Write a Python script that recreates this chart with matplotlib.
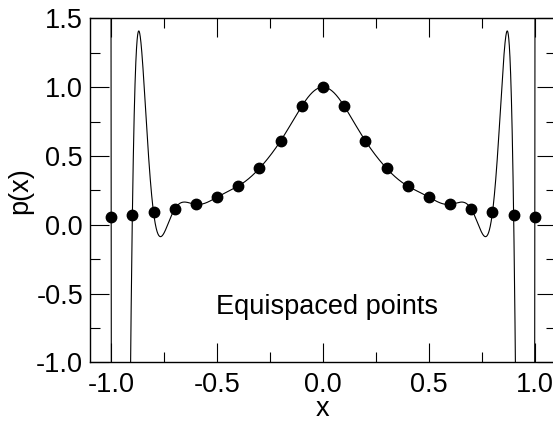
import numpy as np
import matplotlib
matplotlib.use("Agg")
import matplotlib.pyplot as plt
from matplotlib.ticker import MultipleLocator, FormatStrFormatter

# ==========================================================
# DATOS
# ==========================================================

x_nodos = [-1.0, -0.9, -0.8, -0.7, -0.6, -0.5, -0.4, -0.3, -0.2, -0.1, 0.0,
           0.1, 0.2, 0.3, 0.4, 0.5, 0.6, 0.7, 0.8, 0.9, 1.0]

y_nodos = [0.058824, 0.071633, 0.088968, 0.113122, 0.147929, 0.200000,
           0.280899, 0.409836, 0.609756, 0.862069, 1.000000,
           0.862069, 0.609756, 0.409836, 0.280899, 0.200000, 0.147929,
           0.113122, 0.088968, 0.071633, 0.058824]

etiqueta = "Equispaced points"

# ==========================================================
# ESTILO
# ==========================================================

plt.rcParams["font.family"] = ["Liberation Sans", "DejaVu Sans"]
plt.rcParams["font.size"] = 19.5

# polinomio interpolante por los nodos
poly = np.polynomial.Chebyshev.fit(x_nodos, y_nodos, len(x_nodos) - 1)
xs = np.linspace(-1.1, 1.1, 6001)
ys = poly(xs)

fig = plt.figure(figsize=(5.53, 4.21), dpi=100)
ax = fig.add_axes([90 / 553, 1 - 362.3 / 421, 466 / 553, 344 / 421])

ax.plot(xs, ys, color="black", linewidth=0.8)
ax.plot(x_nodos, y_nodos, "o", color="black", markersize=7.5)

ax.set_xlim(-1.1, 1.1)
ax.set_ylim(-1.0, 1.5)

ax.xaxis.set_major_locator(MultipleLocator(0.5))
ax.xaxis.set_minor_locator(MultipleLocator(0.25))
ax.yaxis.set_major_locator(MultipleLocator(0.5))
ax.yaxis.set_minor_locator(MultipleLocator(0.25))
ax.xaxis.set_major_formatter(FormatStrFormatter("%.1f"))
ax.yaxis.set_major_formatter(FormatStrFormatter("%.1f"))

ax.tick_params(which="both", direction="in", top=True, right=True, width=0.8)
ax.tick_params(which="major", length=13.5)
ax.tick_params(which="minor", length=7)
ax.tick_params(axis="x", which="major", pad=7)
ax.tick_params(axis="y", which="major", pad=5)

for s in ax.spines.values():
    s.set_linewidth(1.0)

ax.set_xlabel("x", labelpad=-1.5)
ax.set_ylabel("p(x)", labelpad=2)

ax.text(0.02, -0.6, etiqueta, ha="center", va="center")

fig.savefig("out.png", dpi=100)
